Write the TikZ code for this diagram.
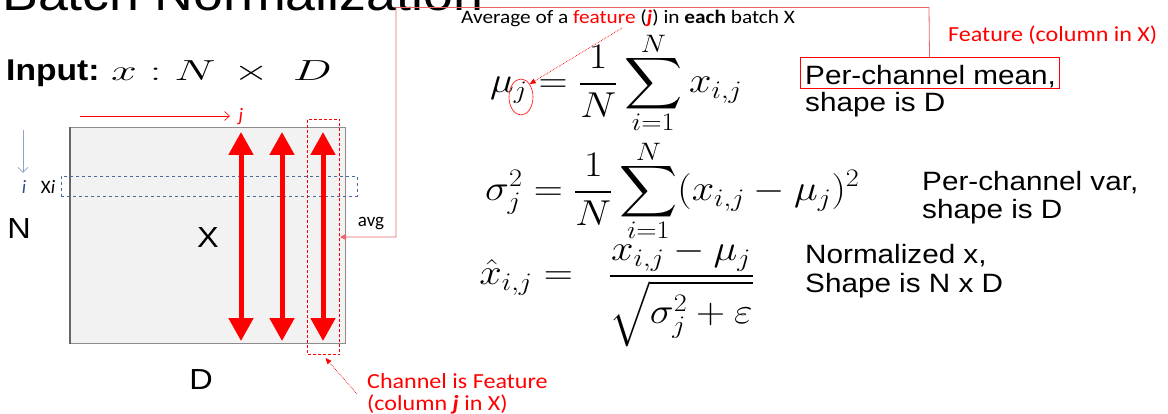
\RequirePackage{fix-cm}
\documentclass[tikz,border=0pt]{standalone}
\usepackage{exscale}
\usepackage{fontspec}
\DeclareFontFamily{OMX}{cmex}{}
\DeclareFontShape{OMX}{cmex}{m}{n}{<->cmex10}{}
\newfontfamily\arialf{Liberation Sans}
\newfontfamily\calibrif{Carlito}
\usetikzlibrary{arrows.meta,shapes.geometric}
\definecolor{pptred}{HTML}{FF0000}
\definecolor{connred}{HTML}{E8666A}
\definecolor{dblue}{HTML}{4A6A9A}
\definecolor{iblue}{HTML}{2F4F8F}
\definecolor{ablue}{HTML}{8EA4C4}
\newcommand{\myxs}[1]{\scalebox{1.12}[1]{#1}}
\newcommand{\topN}{\smash{\raisebox{-5pt}{$\scriptstyle N$}}}
\newcommand{\botI}{\smash{\raisebox{4pt}{$\scriptstyle i=1$}}}
\tikzset{
  rtxt/.style={font=\arialf\fontsize{26.5}{28}\selectfont, anchor=base west, inner sep=0},
  fm/.style={font=\fontsize{36}{40}\selectfont, anchor=base west, inner sep=0},
  bigarr/.style={pptred, line width=5pt, {Triangle[length=23pt,width=24pt]}-{Triangle[length=23pt,width=24pt]}},
  calsmall/.style={font=\calibrif\fontsize{19}{20}\selectfont, inner sep=0},
  calred/.style={font=\calibrif\fontsize{21.5}{22}\selectfont, text=pptred, anchor=base west, inner sep=0},
  bigsans/.style={font=\arialf\fontsize{29}{32}\selectfont, inner sep=0},
  dotarr/.style={pptred, densely dotted, line width=0.7pt, -{Triangle[length=6pt,width=5pt]}}
}
\begin{document}
\begin{tikzpicture}[x=1pt,y=-1pt]
\clip (0,0) rectangle (1168,414);
\fill[white] (0,0) rectangle (1168,414);
% title (cut off at top)
\node[font=\arialf\fontsize{48}{52}\selectfont, anchor=base west, inner sep=0] (title) at (2,11) {\myxs{Batch Normalization}};
% input
\node[font=\arialf\bfseries\fontsize{30}{34}\selectfont, anchor=base west, inner sep=0] (inp) at (6,81) {\myxs{Input:}};
\node[font=\fontsize{29}{34}\selectfont, anchor=base west, inner sep=0] (inpm) at (111,81) {\scalebox{1.6}[1]{$x:N\,\times\;D$}};
% matrix
\node[draw=black!45, fill=black!5, line width=1pt, minimum width=275, minimum height=216, inner sep=0, anchor=north west] (X) at (70,127) {};
\draw[line width=1.6pt, black!60] (X.north west) -- (X.south west);
\node[bigsans] (Xl) at (208,238) {\myxs{X}};
\node[bigsans] (Nl) at (19,229) {\myxs{N}};
\node[bigsans] (Dl) at (201,380) {\myxs{D}};
% row box
\node[draw=dblue, dashed, line width=0.8pt, minimum width=296, minimum height=20, inner sep=0, anchor=north west] (row) at (61,176) {};
% big arrows
\coordinate (a1t) at (241,132); \coordinate (a1b) at (241,341);
\coordinate (a2t) at (282,132); \coordinate (a2b) at (282,341);
\coordinate (a3t) at (323,132); \coordinate (a3b) at (323,341);
\draw[bigarr] (a1t) -- (a1b);
\draw[bigarr] (a2t) -- (a2b);
\draw[bigarr] (a3t) -- (a3b);
% column box
\node[draw=pptred, color=pptred, densely dashed, line width=1pt, minimum width=32, minimum height=235, inner sep=0, anchor=north west] (chan) at (307,119) {};
% j arrow
\coordinate (js) at (80,116); \coordinate (je) at (230,116);
\draw[pptred, line width=0.6pt, -{Straight Barb[length=5pt,width=9pt]}] (js) -- (je);
\node[calsmall, font=\calibrif\itshape\fontsize{19}{20}\selectfont, text=pptred] (jl) at (241,117) {j};
% i arrow
\coordinate (is) at (23,130); \coordinate (ie) at (23,173);
\draw[ablue, line width=0.8pt, -{Straight Barb[length=5pt,width=10pt]}] (is) -- (ie);
\node[calsmall, font=\calibrif\itshape\fontsize{19}{20}\selectfont, text=iblue] (il) at (24,187) {i};
\node[calsmall] (xil) at (48,187) {X\textit{i}};
% avg
\node[calsmall] (avg) at (371,224) {avg};
% per-channel mean box
\node[draw=pptred, line width=1pt, minimum width=259, minimum height=31, inner sep=0] (meanbox) at (929.5,73.5) {};
\coordinate (tr) at (929,7.5); \coordinate (tl) at (396,7.5);
\draw[connred, line width=0.8pt, -{Triangle[length=6pt,width=6pt]}] (meanbox.north) -- (tr) -- (tl) |- (chan.east);
% top text
\node[calsmall, anchor=base west] (avgtxt) at (461,24) {\myxs{Average of a \textcolor{pptred}{feature} (\textcolor{pptred}{\textbf{\textit{j}}}) in \textbf{each} batch X}};
\node[calred] (feat) at (948,42) {\myxs{Feature (column in X)}};
% formulas
\node[fm] (f1) at (490,93) {\myxs{$\displaystyle \mu_j = \frac{1}{N}\sum_{\botI}^{\topN} x_{i,j}$}};
\node[fm] (f2) at (485,201) {\myxs{$\displaystyle \sigma_j^2 = \frac{1}{N}\sum_{\botI}^{\topN} (x_{i,j}-\mu_j)^2$}};
\node[fm, anchor=base east] (f3l) at (573,285) {\myxs{$\displaystyle \hat{x}_{i,j} =$}};
\node[fm] (f3r) at (608,285) {\myxs{$\displaystyle \frac{x_{i,j}-\mu_j}{\sqrt{\sigma_j^2+\varepsilon}}$}};
% ellipse around j
\node[draw=pptred, line width=0.6pt, ellipse, minimum width=24, minimum height=36, inner sep=0] (jc) at (521,97) {};
\coordinate (fs) at (622,28);
\draw[dotarr] (fs) -- (jc.north east);
% right texts
\node[rtxt] (t1) at (805,84.5) {\myxs{Per-channel mean,}};
\node[rtxt] (t2) at (805,112) {\myxs{shape is D}};
\node[rtxt] (t3) at (922,191) {\myxs{Per-channel var,}};
\node[rtxt] (t4) at (922,219) {\myxs{shape is D}};
\node[rtxt] (t5) at (805,264) {\myxs{Normalized x,}};
\node[rtxt] (t6) at (805,292) {\myxs{Shape is N x D}};
% channel label
\node[calred] (ch1) at (367,388) {\myxs{Channel is Feature}};
\node[calred] (ch2) at (367,410) {\myxs{(column \textbf{\textit{j}} in X)}};
\coordinate (cs) at (357,394);
\draw[dotarr] (cs) -- ([xshift=2pt,yshift=-3pt]chan.south);
\end{tikzpicture}
\end{document}
